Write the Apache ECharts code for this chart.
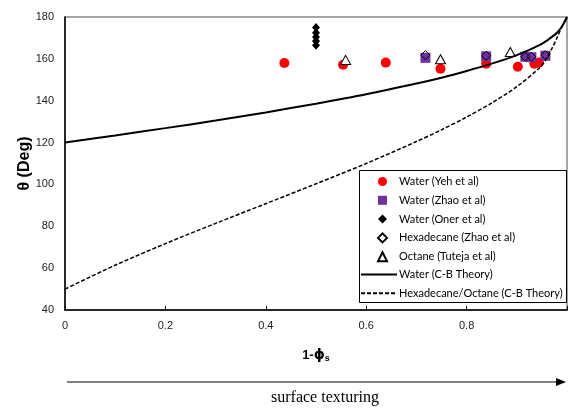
<!DOCTYPE html>
<html>
<head>
<meta charset="utf-8">
<script src="https://cdn.jsdelivr.net/npm/echarts@6/dist/echarts.min.js"></script>
<style>
  html, body { margin: 0; padding: 0; background: #fff; }
  #chart { width: 570px; height: 408px; }
</style>
</head>
<body>
<div id="chart"></div>
<script>
// Measured contact angles, [1 - phi_s, theta in degrees]
const yehWater = [[0.437, 158], [0.554, 157.2], [0.639, 158.2], [0.748, 155.3], [0.839, 157.7], [0.902, 156.2], [0.935, 157.7], [0.944, 158.2]];
const zhaoWater = [[0.718, 160.5], [0.839, 161.2], [0.917, 161], [0.929, 160.8], [0.957, 161.5]];
const onerWater = [[0.5, 175], [0.5, 172.5], [0.5, 170.5], [0.5, 168.5], [0.5, 166.5]];
const zhaoHexadecane = [[0.718, 161.8], [0.839, 161.5], [0.917, 161], [0.929, 161], [0.957, 161.8]];
const tutejaOctane = [[0.559, 159.5], [0.748, 159.8], [0.887, 163.3]];

// Cassie-Baxter curves
const cbX = [0, 0.1, 0.2, 0.3, 0.4, 0.5, 0.6, 0.7, 0.75, 0.8, 0.85, 0.9, 0.95, 0.97, 0.98, 0.99, 1];
const cbWater = [120, 123.4, 126.9, 130.5, 134.4, 138.6, 143.1, 148.2, 151.0, 154.2, 157.7, 161.8, 167.2, 170.5, 172.5, 175.5, 180];
const cbOil = [50, 61.4, 71.7, 81.4, 90.8, 100.3, 110.0, 120.5, 126.1, 132.2, 138.9, 146.7, 157, 165, 170, 175.5, 180];

const xTicks = ['0', '0.2', '0.4', '0.6', '0.8'];
const pointNames = ['Water (Yeh et al)', 'Water (Zhao et al)', 'Water (Oner et al)', 'Hexadecane (Zhao et al)', 'Octane (Tuteja et al)'];
const curveNames = ['Water (C-B Theory)', 'Hexadecane/Octane (C-B Theory)'];

const pair = (xs, ys) => xs.map((x, i) => [x, ys[i]]);

const chart = echarts.init(document.getElementById('chart'));
const labelFont = 'Liberation Sans, Arial, sans-serif';
const legendText = { fontFamily: 'Lato, sans-serif', fontSize: 11, color: '#000', lineHeight: 13 };

chart.setOption({
  animation: false,
  grid: {
    left: 65, right: -4, top: 17, bottom: 98,
    show: true, borderColor: '#888', borderWidth: 1.5, backgroundColor: 'transparent'
  },
  xAxis: {
    type: 'value', min: 0, max: 1, interval: 0.2,
    axisLine: { lineStyle: { color: '#000', width: 1.5 } },
    axisTick: { inside: true, length: 4, lineStyle: { color: '#000' } },
    splitLine: { show: false },
    axisLabel: {
      color: '#222', fontFamily: labelFont, fontSize: 11, margin: 10,
      formatter: v => { const s = xTicks.find(t => Math.abs(parseFloat(t) - v) < 1e-6); return s === undefined ? '' : s; }
    },
    name: '1-{p|ϕ}{s|s}',
    nameLocation: 'middle', nameGap: 38, nameMoveOverlap: false,
    nameTextStyle: {
      fontFamily: labelFont, fontWeight: 'bold', fontSize: 13, color: '#000',
      rich: {
        p: { fontFamily: 'DejaVu Sans', fontWeight: 'bold', fontSize: 14, color: '#000' },
        s: { fontFamily: labelFont, fontWeight: 'bold', fontSize: 9, color: '#000', verticalAlign: 'bottom', padding: [6, 0, 0, 0] }
      }
    }
  },
  yAxis: {
    type: 'value', min: 40, max: 180, interval: 20,
    axisLine: { show: true, lineStyle: { color: '#000', width: 1.5 } },
    axisTick: { show: false },
    splitLine: { show: false },
    axisLabel: { color: '#222', fontFamily: labelFont, fontSize: 11, margin: 11 },
    name: 'θ (Deg)',
    nameLocation: 'middle', nameGap: 32, nameRotate: 90, nameMoveOverlap: false,
    nameTextStyle: { fontFamily: labelFont, fontWeight: 'bold', fontSize: 16, color: '#000' }
  },
  legend: [
    {
      // marker entries
      orient: 'vertical', left: 377, top: 175, padding: 0,
      itemGap: 5.8, itemWidth: 9, itemHeight: 9,
      textStyle: Object.assign({ padding: [0, 0, 0, 7] }, legendText),
      data: pointNames.map(n => ({ name: n })),
      z: 5
    },
    {
      // curve entries
      orient: 'vertical', left: 360, top: 268, padding: 0,
      itemGap: 5.8, itemWidth: 36, itemHeight: 10,
      textStyle: Object.assign({ padding: [0, 0, 0, -3] }, legendText),
      data: curveNames.map(n => ({ name: n, itemStyle: { color: 'rgba(0,0,0,0)', borderColor: 'rgba(0,0,0,0)', borderWidth: 0 } })),
      z: 5
    }
  ],
  graphic: [
    { type: 'rect', z: 4, shape: { x: 359.5, y: 170.5, width: 207, height: 132 }, style: { fill: '#fff', stroke: '#000', lineWidth: 1 } },
    { type: 'line', shape: { x1: 67, y1: 382, x2: 558, y2: 382 }, style: { stroke: '#000', lineWidth: 1.2 } },
    { type: 'polygon', shape: { points: [[556, 378], [566, 382], [556, 386]] }, style: { fill: '#000' } },
    { type: 'text', x: 325, y: 398, style: { text: 'surface texturing', font: '16px "Liberation Serif", "Times New Roman", serif', fill: '#000', textAlign: 'center', textVerticalAlign: 'middle' } }
  ],
  series: [
    { name: pointNames[0], type: 'scatter', data: yehWater, symbol: 'circle', symbolSize: 10, itemStyle: { color: '#ff0000', opacity: 1 } },
    { name: pointNames[1], type: 'scatter', data: zhaoWater, symbol: 'rect', symbolSize: 10, itemStyle: { color: '#7030a0', opacity: 1 } },
    { name: pointNames[2], type: 'scatter', data: onerWater, symbol: 'diamond', symbolSize: [8, 9], itemStyle: { color: '#000', opacity: 1 } },
    { name: pointNames[3], type: 'scatter', data: zhaoHexadecane, symbol: 'diamond', symbolSize: 9, itemStyle: { color: 'rgba(255,255,255,0)', borderColor: '#000', borderWidth: 1, opacity: 1 } },
    { name: pointNames[4], type: 'scatter', data: tutejaOctane, symbol: 'triangle', symbolSize: [10, 9], itemStyle: { color: '#fff', borderColor: '#000', borderWidth: 1, opacity: 1 } },
    { name: curveNames[0], type: 'line', data: pair(cbX, cbWater), smooth: 0.3, showSymbol: false, symbol: 'none', lineStyle: { color: '#000', width: 2 }, itemStyle: { color: '#000' } },
    { name: curveNames[1], type: 'line', data: pair(cbX, cbOil), smooth: 0.3, showSymbol: false, symbol: 'none', lineStyle: { color: '#000', width: 1.5, type: [4, 2] }, itemStyle: { color: '#000' } }
  ]
});
</script>
</body>
</html>
